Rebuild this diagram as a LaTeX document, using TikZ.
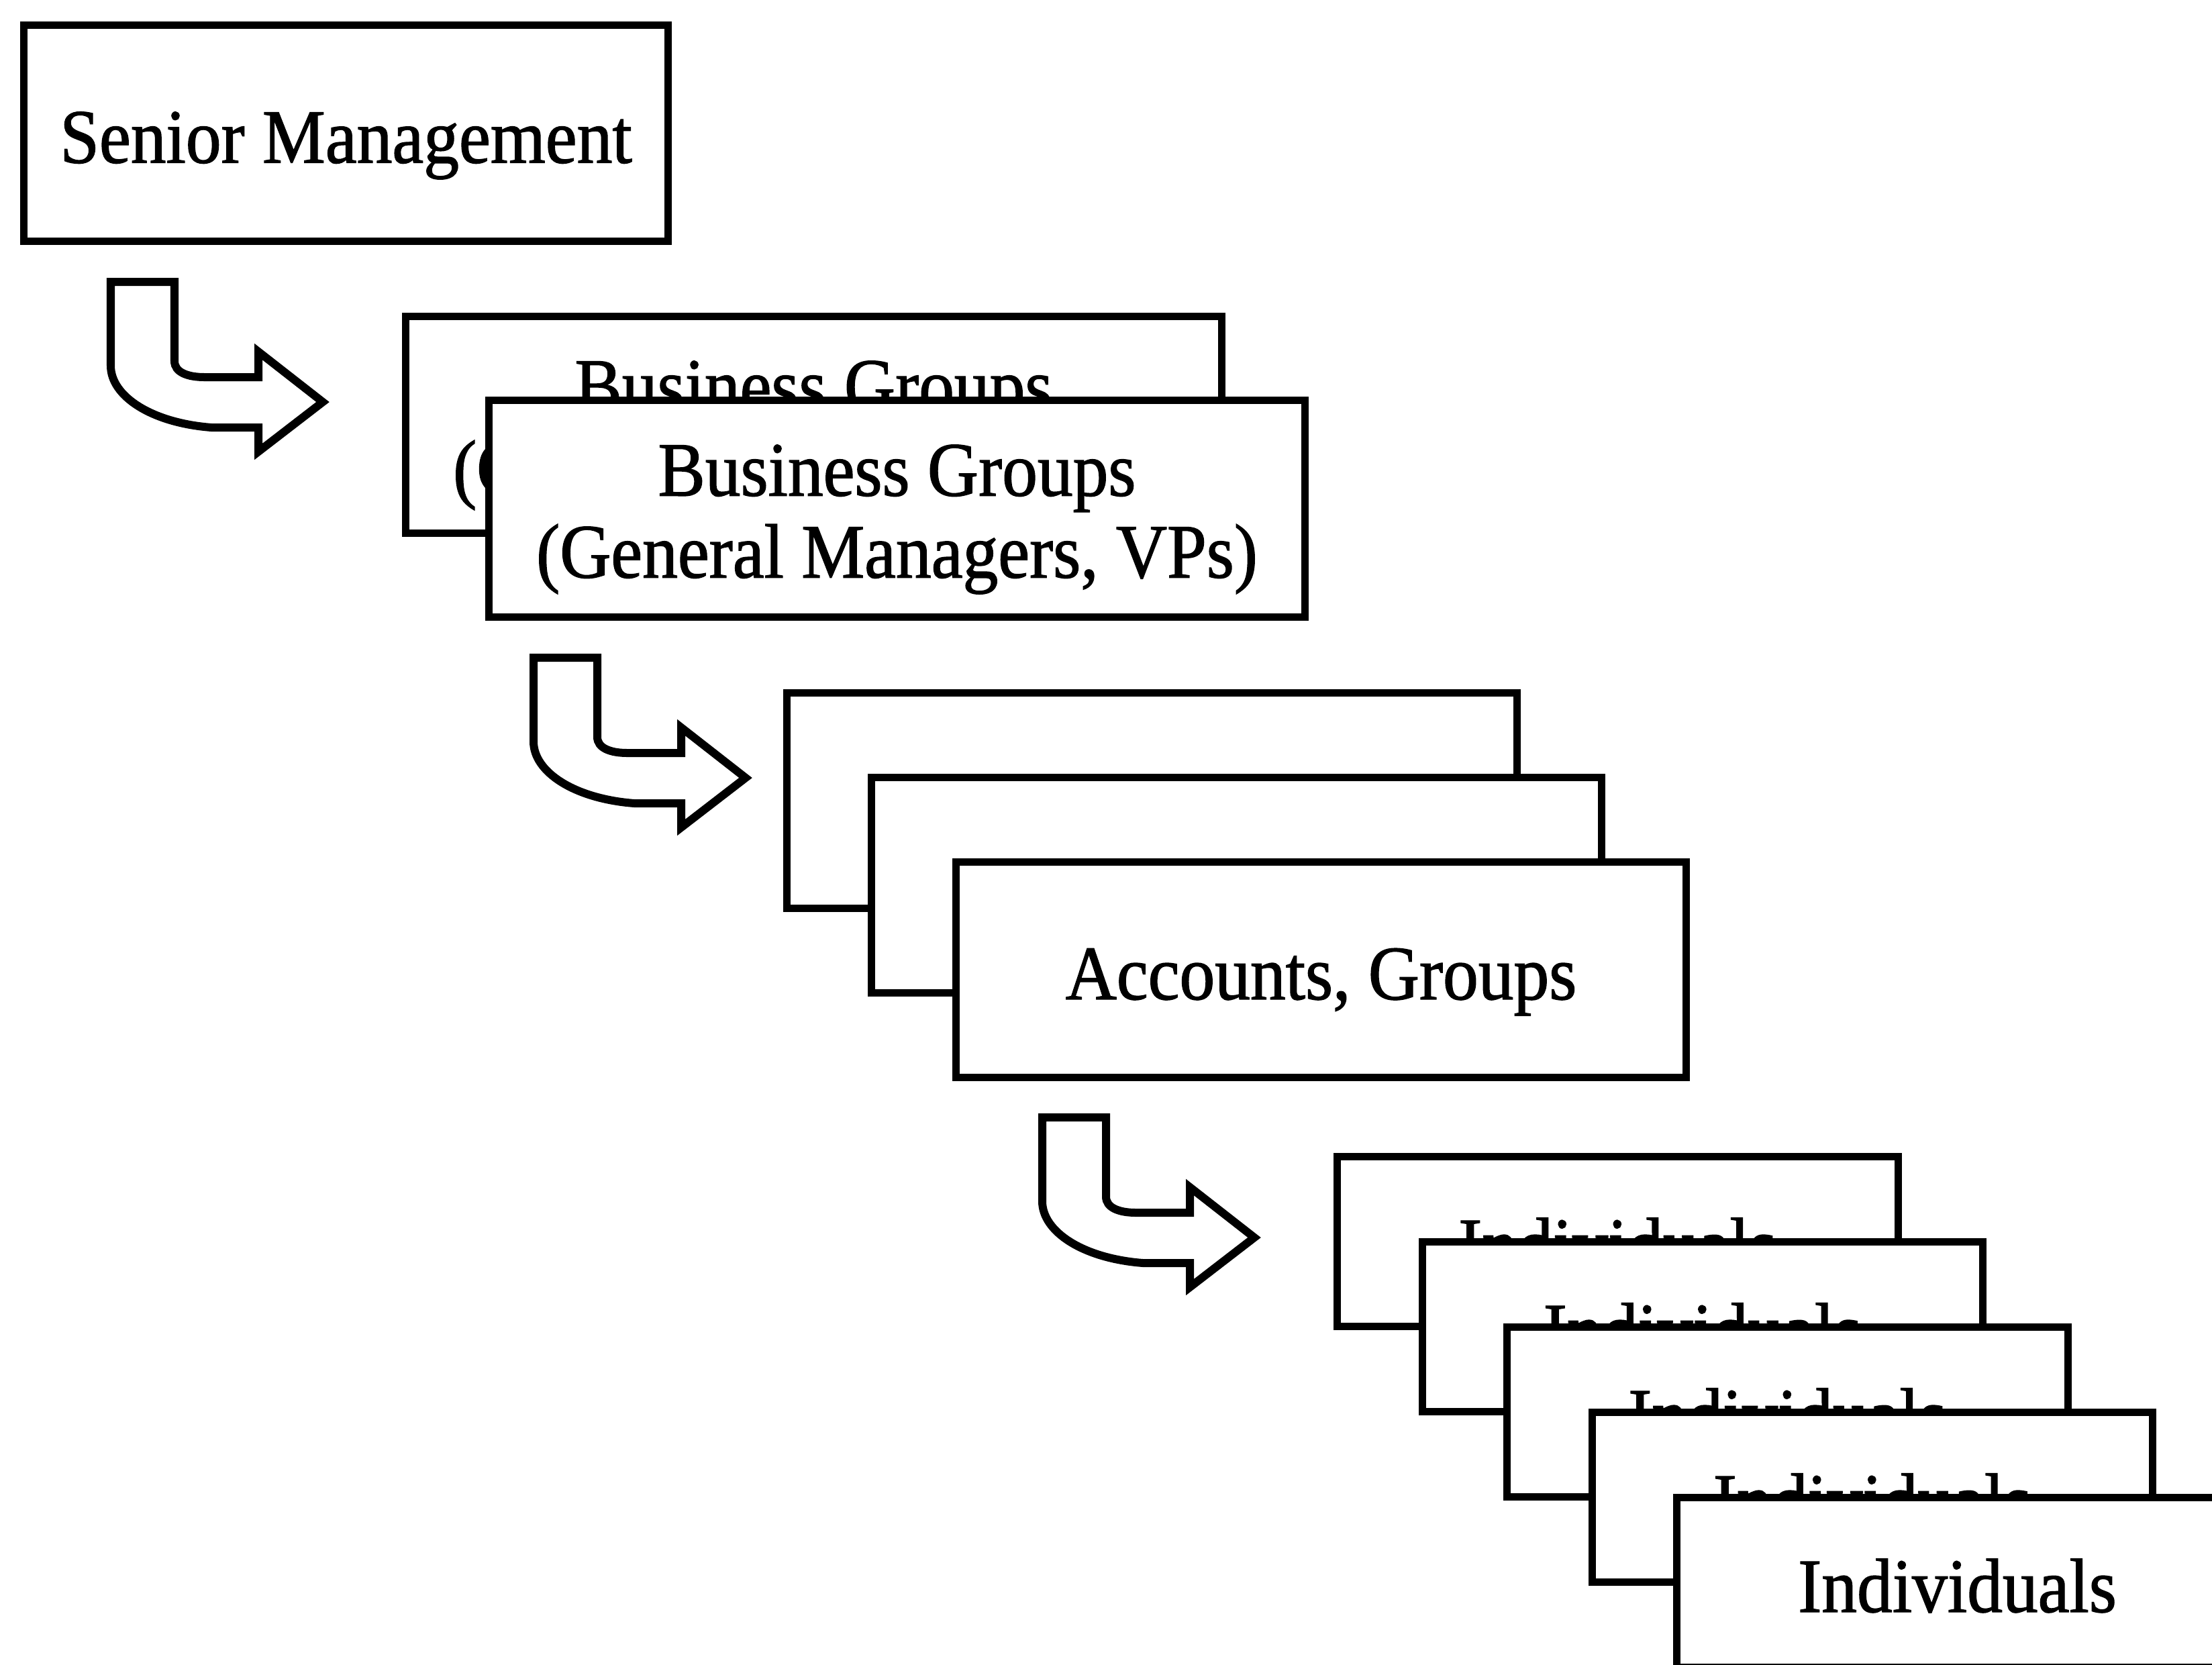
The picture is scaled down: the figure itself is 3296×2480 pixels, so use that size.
\documentclass[tikz,border=0pt]{standalone}
\usepackage{fontspec}
\setmainfont{Liberation Serif}[FakeStretch=0.92, FakeBold=1.2]
\usetikzlibrary{calc}
\begin{document}
\begin{tikzpicture}[x=0.01cm, y=-0.01cm,
  card/.style={draw=black, fill=white, line width=1.1mm, inner sep=0pt, outer sep=0pt},
  topcard/.style={card, minimum width=9.59cm, minimum height=3.21cm},
  bizcard/.style={card, minimum width=12.15cm, minimum height=3.23cm},
  acctcard/.style={card, minimum width=10.87cm, minimum height=3.20cm},
  indcard/.style={card, minimum width=8.35cm, minimum height=2.53cm},
  lbl/.style={font=\fontsize{32.6}{34.7}\selectfont, inner sep=0pt, align=center},
  flowline/.style={draw=black, fill=white, line width=1.2mm},
  bentarrow/.pic={
    \path[flowline] (0,0) -- (95,0) -- (95,118)
      .. controls (95,135) and (115,142) .. (140,142)
      -- (220,142) -- (220,104) -- (316,179) -- (220,253) -- (220,217) -- (150,217)
      .. controls (60,210) and (0,170) .. (0,125) -- cycle;
  }
]
% page
\fill[white] (0,0) rectangle (3296,2480);
\useasboundingbox (0,0) rectangle (3296,2480);
\clip (0,0) rectangle (3296,2480);

% level 1
\node[topcard] (senior) at (515.5,198.5) {};
\node[lbl, anchor=base] (senior-text) at ($(senior.center)+(0,44)$) {Senior Management};

\pic (arrow-a) at (165,420) {bentarrow};

% level 2: stacked business group cards
\node[bizcard] (biz-back) at (1212.5,633) {};
\node[lbl] (biz-back-text) at ($(biz-back.center)+(0,16)$) {Business Groups\\(General Managers, VPs)};
\node[bizcard] (biz-front) at (1336.5,758) {};
\node[lbl] (biz-front-text) at ($(biz-front.center)+(0,16)$) {Business Groups\\(General Managers, VPs)};

\pic (arrow-b) at (795,980) {bentarrow};

% level 3: stacked account cards
\node[acctcard] (acct-back) at (1716.5,1193) {};
\node[acctcard] (acct-mid) at (1842.5,1319) {};
\node[acctcard] (acct-front) at (1968.5,1445) {};
\node[lbl, anchor=base] (acct-text) at ($(acct-front.center)+(0,44)$) {Accounts, Groups};

\pic (arrow-c) at (1553,1665) {bentarrow};

% level 4: stacked individual cards
\foreach \i in {0,...,4}{
  \node[indcard] (ind-\i) at ({2410.5+126.5*\i},{1850+127*\i}) {};
  \node[lbl, anchor=base] (ind-text-\i) at ($(ind-\i.center)+(0,44)$) {Individuals};
}
\end{tikzpicture}
\end{document}
